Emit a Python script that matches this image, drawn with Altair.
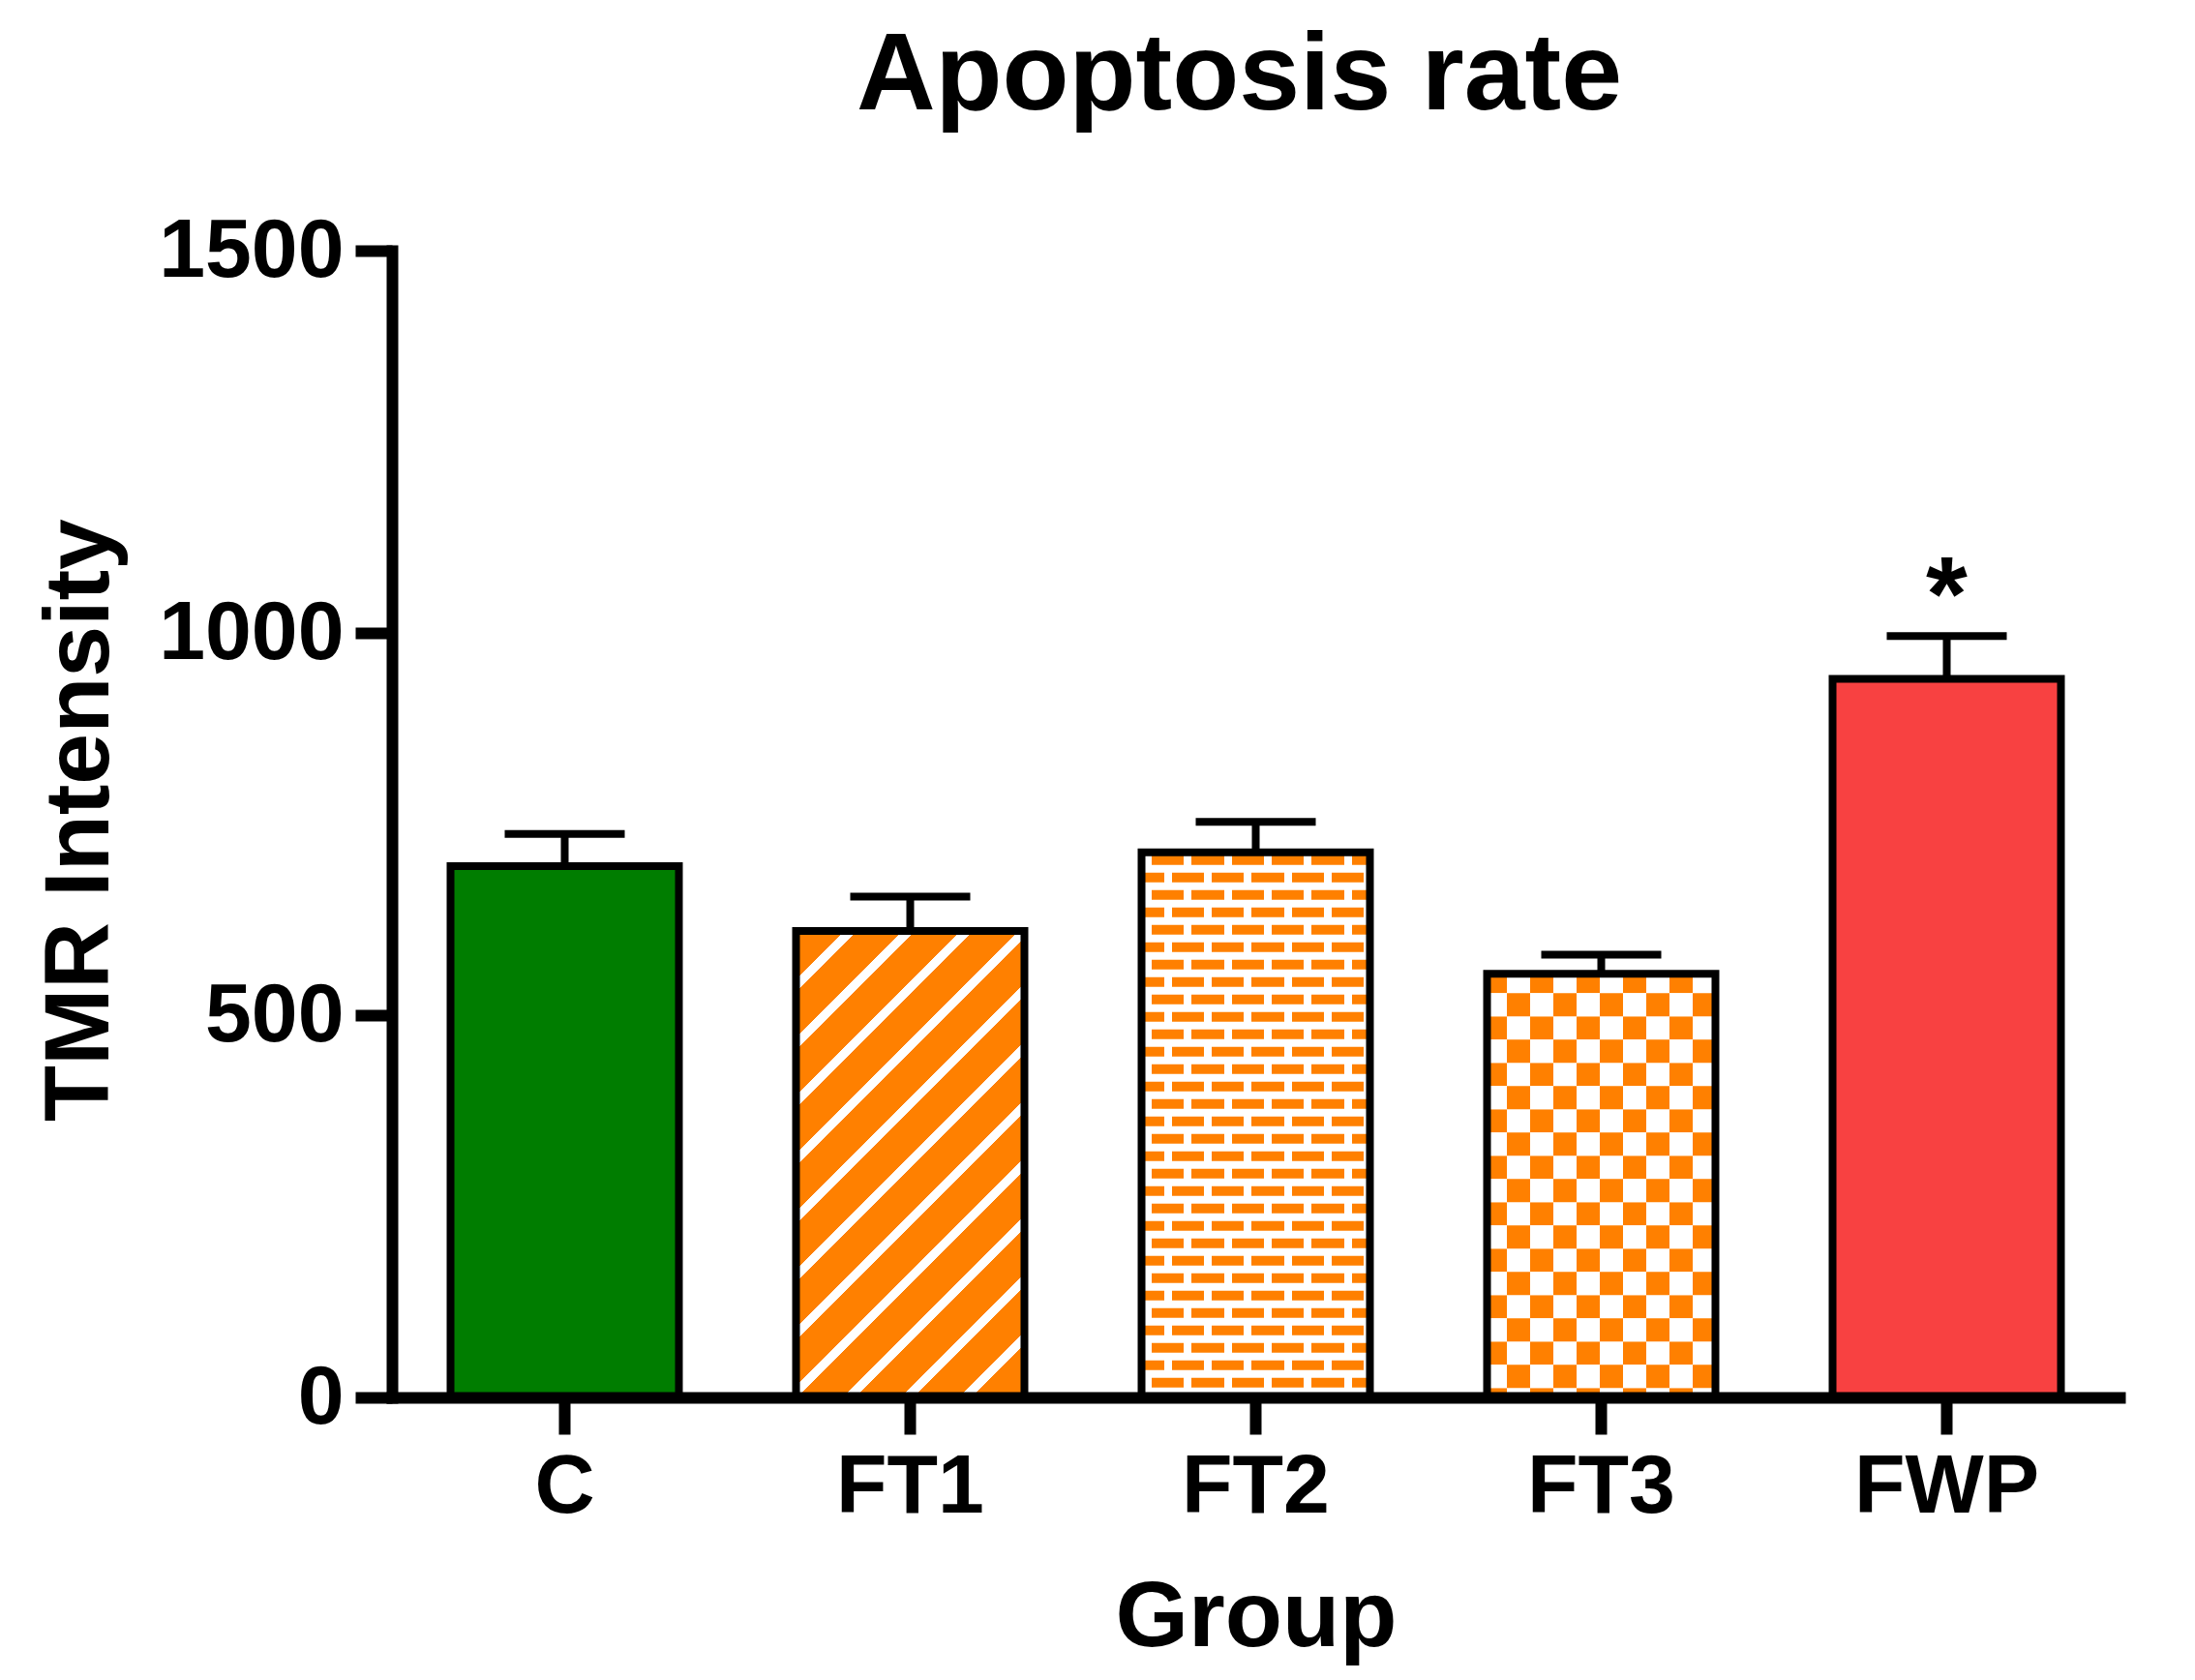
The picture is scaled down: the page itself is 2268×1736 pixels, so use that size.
import altair as alt
import pandas as pd

# ---------------- data ----------------
groups = ["C", "FT1", "FT2", "FT3", "FWP"]
means = [695, 610, 713, 554, 940]
sems = [42, 45, 40, 25, 56]
sig_marks = ["", "", "", "", "*"]

# ---------------- style ----------------
FONT = "Liberation Sans"
GREEN = "#007D00"
ORANGE = "#FF8000"
RED = "#F84141"
WHITE = "#FFFFFF"
W, H = 1785, 1185
YMAX = 1500
PPU = H / YMAX
P_IN = 0.339
P_OUT = P_IN / 2
STEP = W / (len(groups) - P_IN + 2 * P_OUT)
BW = STEP * (1 - P_IN)

df = pd.DataFrame({
    "group": groups,
    "mean": means,
    "top": [m + s for m, s in zip(means, sems)],
    "mark": sig_marks,
})


def periodic_stops(length, period, phase, on_len, on_color, off_color):
    """hard-edged gradient stops for a repeating on/off pattern along [0, length]"""
    segs = []
    k = -2
    while phase + k * period < length:
        a = phase + k * period
        b = a + on_len
        a, b = max(a, 0), min(b, length)
        if b > a:
            segs.append((a, b))
        k += 1
    stops = []
    pos = 0.0
    for a, b in segs:
        if a > pos:
            stops += [{"offset": pos / length, "color": off_color},
                      {"offset": a / length, "color": off_color}]
        stops += [{"offset": a / length, "color": on_color},
                  {"offset": b / length, "color": on_color}]
        pos = b
    if pos < length:
        stops += [{"offset": pos / length, "color": off_color},
                  {"offset": 1.0, "color": off_color}]
    return stops


def hgrad(stops):
    return {"gradient": "linear", "x1": 0, "y1": 0, "x2": 1, "y2": 0, "stops": stops}


# FT1 diagonal stripes
v1 = means[groups.index("FT1")]
w1, h1 = BW, v1 * PPU
L1 = w1 + h1
c1 = (w1 + h1) / (w1 ** 2 + h1 ** 2)
stripe_grad = {
    "gradient": "linear", "x1": 0, "y1": 0, "x2": w1 * c1, "y2": h1 * c1,
    "stops": periodic_stops(L1, 60, 50, 13, WHITE, ORANGE),
}

# FT2 bricks (rows of dashes with alternating offset)
v2 = means[groups.index("FT2")]
brick_rows = []
k = 0
while True:
    tp = 3 + 18 * k
    bp = tp + 10
    ytop = v2 - tp / PPU
    if ytop <= 0:
        break
    brick_rows.append({"group": "FT2", "mean": max(0.0, v2 - bp / PPU), "top": ytop, "par": k % 2})
    k += 1
brick_df = pd.DataFrame(brick_rows)
brickA = hgrad(periodic_stops(BW, 41.3, 2.5, 8, WHITE, ORANGE))
brickB = hgrad(periodic_stops(BW, 41.3, 2.5 + 20.65, 8, WHITE, ORANGE))

# FT3 checkerboard
v3 = means[groups.index("FT3")]
hpx = v3 * PPU
bounds = [0.0]
b = 20.0
while b < hpx:
    bounds.append(b)
    b += 24
bounds.append(hpx)
check_rows = []
for i in range(len(bounds) - 1):
    check_rows.append({"group": "FT3", "top": v3 - bounds[i] / PPU,
                       "mean": max(0.0, v3 - bounds[i + 1] / PPU), "par": i % 2})
check_df = pd.DataFrame(check_rows)
checkA = hgrad(periodic_stops(BW, 48, -4, 24, ORANGE, WHITE))
checkB = hgrad(periodic_stops(BW, 48, 20, 24, ORANGE, WHITE))

# ---------------- encodings ----------------
xs = alt.Scale(domain=groups, paddingInner=P_IN, paddingOuter=P_OUT)
ys = alt.Scale(domain=[0, YMAX], nice=False)

x_axis = alt.Axis(
    title="Group", labelAngle=0, labelFont=FONT, labelFontSize=86, labelFontWeight="bold",
    labelColor="black", labelPadding=12, labelLimit=1000, tickSize=38, tickWidth=12,
    tickColor="black", domainColor="black", domainWidth=12, domainCap="square",
    titleFont=FONT, titleFontSize=97, titleFontWeight="bold", titleColor="black",
    titlePadding=44, zindex=1,
)
y_axis = alt.Axis(
    title="TMR Intensity", values=[0, 500, 1000, 1500], format="d", grid=False,
    labelFont=FONT, labelFontSize=86, labelFontWeight="bold", labelColor="black",
    labelPadding=12, labelLimit=1000, tickSize=38, tickWidth=12, tickColor="black",
    domainColor="black", domainWidth=12, domainCap="square", titleFont=FONT,
    titleFontSize=95, titleFontWeight="bold", titleColor="black", titleX=-274,
    titleY=588, zindex=1,
)

X = alt.X("group:N", sort=groups, scale=xs, axis=x_axis)
Y = alt.Y("mean:Q", scale=ys, axis=y_axis)
Y2 = alt.Y2("top:Q")

solid = alt.Chart(df).mark_bar().encode(
    x=X, y=Y,
    fill=alt.Fill("group:N", scale=alt.Scale(domain=groups, range=[GREEN, ORANGE, WHITE, WHITE, RED]),
                  legend=None),
)

stripes = alt.Chart(df).transform_filter(alt.datum.group == "FT1").mark_bar(
    fill=stripe_grad).encode(x=X, y=Y)

brick_a = alt.Chart(brick_df).transform_filter(alt.datum.par == 0).mark_bar(
    fill=brickA).encode(x=X, y=Y, y2=Y2)
brick_b = alt.Chart(brick_df).transform_filter(alt.datum.par == 1).mark_bar(
    fill=brickB).encode(x=X, y=Y, y2=Y2)

check_a = alt.Chart(check_df).transform_filter(alt.datum.par == 0).mark_bar(
    fill=checkA).encode(x=X, y=Y, y2=Y2)
check_b = alt.Chart(check_df).transform_filter(alt.datum.par == 1).mark_bar(
    fill=checkB).encode(x=X, y=Y, y2=Y2)

outline = alt.Chart(df).mark_bar(
    fillOpacity=0, stroke="black", strokeWidth=8, strokeJoin="miter").encode(x=X, y=Y)

err_line = alt.Chart(df).mark_rule(color="black", strokeWidth=8).encode(x=X, y=Y, y2=Y2)
err_cap = alt.Chart(df).mark_tick(color="black", thickness=8, size=124, opacity=1).encode(
    x=X, y=alt.Y("top:Q", scale=ys))

star = alt.Chart(df).mark_text(
    font=FONT, fontSize=110, fontWeight="bold", color="black", baseline="alphabetic", dy=-6
).encode(x=X, y=alt.Y("top:Q", scale=ys), text="mark:N")

chart = alt.layer(
    solid, stripes, brick_a, brick_b, check_a, check_b, outline, err_line, err_cap, star
).properties(
    width=W, height=H,
    autosize=alt.AutoSizeParams(type="none"),
    padding={"left": 397, "top": 251, "right": 70, "bottom": 284},
    view=alt.ViewBackground(strokeWidth=0, stroke="transparent"),
    title=alt.TitleParams("Apoptosis rate", font=FONT, fontSize=113, fontWeight="bold",
                          color="black", anchor="middle", frame="group", offset=79, dx=-17),
).configure_view(strokeWidth=0, stroke="transparent").configure(background="white")

chart.save("out.html", embed_options={"renderer": "svg", "actions": False})
